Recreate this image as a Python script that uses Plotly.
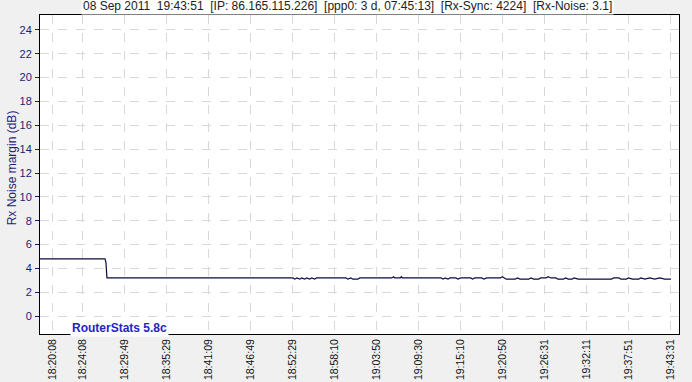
import plotly.graph_objects as go

DATE = "2011-09-08 "

# Sample times and Rx noise margin (dB)
times = [
    "18:18:23", "18:27:09", "18:27:17", "18:27:25", "18:52:30", "18:52:46", "18:53:02",
    "18:53:26", "18:53:42", "18:54:06", "18:54:22", "18:54:46", "18:55:02", "18:55:26",
    "18:55:42", "18:59:40", "18:59:56", "19:00:20", "19:00:36", "19:01:16", "19:01:32",
    "19:05:50", "19:06:06", "19:06:14", "19:07:00", "19:07:08", "19:07:16", "19:12:30",
    "19:12:46", "19:13:02", "19:13:26", "19:13:42", "19:14:30", "19:14:46", "19:15:10",
    "19:16:30", "19:16:46", "19:17:02", "19:18:00", "19:18:16", "19:18:40", "19:20:30",
    "19:20:46", "19:21:02", "19:21:18", "19:22:30", "19:22:46", "19:23:10", "19:24:20",
    "19:24:36", "19:25:00", "19:25:40", "19:25:56", "19:26:40", "19:26:56", "19:27:20",
    "19:28:00", "19:28:16", "19:29:00", "19:29:16", "19:29:40", "19:30:10", "19:30:26",
    "19:31:00", "19:35:30", "19:35:46", "19:36:30", "19:36:46", "19:37:30", "19:37:46",
    "19:38:20", "19:39:10", "19:39:26", "19:40:00", "19:40:40", "19:41:20", "19:42:00",
    "19:42:40", "19:43:31",
]
noise = [
    4.8, 4.8, 4.5, 3.2, 3.2, 3.1, 3.2,
    3.1, 3.2, 3.1, 3.2, 3.1, 3.2, 3.1,
    3.2, 3.2, 3.1, 3.2, 3.1, 3.1, 3.2,
    3.2, 3.3, 3.2, 3.2, 3.3, 3.2, 3.2,
    3.1, 3.2, 3.1, 3.2, 3.2, 3.1, 3.2,
    3.2, 3.1, 3.2, 3.2, 3.1, 3.2, 3.2,
    3.3, 3.2, 3.1, 3.1, 3.2, 3.1, 3.1,
    3.2, 3.1, 3.1, 3.2, 3.2, 3.3, 3.2,
    3.2, 3.1, 3.1, 3.2, 3.1, 3.1, 3.2,
    3.1, 3.1, 3.2, 3.2, 3.1, 3.1, 3.2,
    3.1, 3.1, 3.2, 3.1, 3.2, 3.1, 3.2,
    3.1, 3.1,
]

x_ticks = [
    "18:20:08", "18:24:08", "18:29:49", "18:35:29", "18:41:09", "18:46:49", "18:52:29",
    "18:58:10", "19:03:50", "19:09:30", "19:15:10", "19:20:50", "19:26:31", "19:32:11",
    "19:37:51", "19:43:31",
]
y_ticks = [0, 2, 4, 6, 8, 10, 12, 14, 16, 18, 20, 22, 24]

x_range = ["18:18:23", "19:44:36"]
y_range = [-1.5, 25.25]

title_text = ("08 Sep 2011  19:43:51  [IP: 86.165.115.226]  [ppp0: 3 d, 07:45:13]  "
              "[Rx-Sync: 4224]  [Rx-Noise: 3.1]").replace(" ", "\u00a0")

NAVY = "#1c1c78"
FONT = "Liberation Sans, Arial, sans-serif"

fig = go.Figure()
fig.add_trace(go.Scatter(
    x=[DATE + t for t in times], y=noise, mode="lines",
    line=dict(color="#0a0a40", width=1.2), showlegend=False,
))

fig.update_layout(
    width=692, height=382,
    margin=dict(l=40, r=13, t=15, b=48, autoexpand=False),
    paper_bgcolor="#f0f0f0", plot_bgcolor="#ffffff",
    font=dict(family=FONT, size=11, color="#000000"),
    xaxis=dict(
        type="date", automargin=False,
        range=[DATE + r for r in x_range],
        tickmode="array",
        tickvals=[DATE + t for t in x_ticks],
        ticktext=x_ticks,
        tickangle=-90,
        ticks="", ticklabelstandoff=0,
        tickfont=dict(family=FONT, size=10.5, color="#111111"),
        showgrid=True, gridcolor="#d8d8d8", griddash="dash", gridwidth=1,
        showline=True, linecolor="#000000", linewidth=1, mirror=True,
        zeroline=False,
    ),
    yaxis=dict(
        range=y_range, automargin=False,
        tickmode="array", tickvals=y_ticks,
        ticks="outside", ticklen=4, tickcolor=NAVY, ticklabelstandoff=1,
        tickfont=dict(family=FONT, size=11, color=NAVY),
        showgrid=True, gridcolor="#d8d8d8", griddash="dash", gridwidth=1,
        showline=True, linecolor="#000000", linewidth=1, mirror=True,
        zeroline=False,
    ),
    annotations=[
        dict(text=title_text, xref="paper", yref="paper", x=0.482, y=1.0,
             xanchor="center", yanchor="bottom", yshift=0, showarrow=False,
             bgcolor="#ffffff", borderpad=1,
             font=dict(family=FONT, size=12, color="#222222")),
        dict(text="<b>RouterStats 5.8c</b>", xref="paper", yref="paper",
             x=0.125, y=0.019, xanchor="center", yanchor="middle", showarrow=False,
             bgcolor="#ffffff", borderpad=1,
             font=dict(family=FONT, size=12, color="#2323c8")),
        dict(text="Rx Noise margin (dB)", xref="paper", yref="paper",
             x=-0.0435, y=0.52, xanchor="center", yanchor="middle", textangle=-90,
             showarrow=False, font=dict(family=FONT, size=12, color=NAVY)),
    ],
)

fig.write_html("out.html")
